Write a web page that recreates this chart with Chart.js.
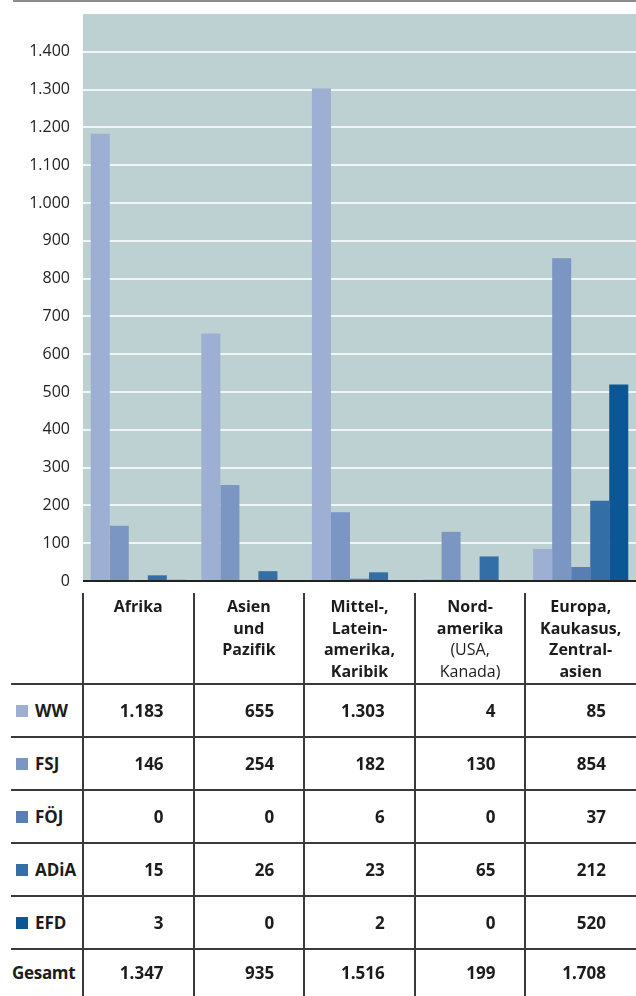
<!DOCTYPE html>
<html>
<head>
<meta charset="utf-8">
<script src="https://cdn.jsdelivr.net/npm/chart.js@4"></script>
<style>
  html, body { margin: 0; padding: 0; background: #fff; }
  body { width: 636px; height: 996px; position: relative; overflow: hidden; font-family: "Open Sans", "Noto Sans", sans-serif; color: #1c1c1c; }
  #topLine { position: absolute; left: 13px; right: 0; top: 0; height: 2px; background: #8c8c8c; }
  #chartBox { position: absolute; left: 0; top: 0; width: 636px; height: 604px; }
  .hline { position: absolute; height: 2px; background: #3a3a3a; }
  .vline { position: absolute; width: 2px; background: #3a3a3a; }
  .head { position: absolute; text-align: center; font-weight: 700; font-size: 16px; line-height: 21.5px; }
  .head .reg { font-weight: 400; }
  .cell { position: absolute; text-align: right; font-weight: 700; font-size: 17px; display: flex; align-items: center; justify-content: flex-end; box-sizing: border-box; padding-right: 30px; }
  .rowLabel { position: absolute; font-weight: 700; font-size: 17px; display: flex; align-items: center; }
  .swatch { display: inline-block; width: 12px; height: 12px; margin-right: 7px; }
</style>
</head>
<body>
<div id="topLine"></div>
<div id="chartBox"><canvas id="regionChart" width="636" height="604"></canvas></div>
<div id="table"></div>

<script>
// -----------------------------
// Data
// -----------------------------
const regions = [
  ["Afrika"],
  ["Asien", "und", "Pazifik"],
  ["Mittel-,", "Latein-", "amerika,", "Karibik"],
  ["Nord-", "amerika", "(USA,", "Kanada)"],
  ["Europa,", "Kaukasus,", "Zentral-", "asien"]
];
// lines in the header that are not bold
const regularLines = ["(USA,", "Kanada)"];

const seriesNames = ["WW", "FSJ", "FÖJ", "ADiA", "EFD"];
const ww   = [1183, 655, 1303, 4, 85];
const fsj  = [146, 254, 182, 130, 854];
const foej = [0, 0, 6, 0, 37];
const adia = [15, 26, 23, 65, 212];
const efd  = [3, 0, 2, 0, 520];
const gesamt = [1347, 935, 1516, 199, 1708];

const yMax = 1500;
const yStep = 100;

const seriesColors = ["#9dafd3", "#7b96c2", "#5a7db5", "#346ea7", "#0c5695"];
const plotBg = "#bdd0d2";

// -----------------------------
// Helpers
// -----------------------------
function fmt(n) {
  return String(n).replace(/\B(?=(\d{3})+(?!\d))/g, ".");
}

const plotBackground = {
  id: "plotBackground",
  beforeDraw(chart) {
    const { ctx, chartArea } = chart;
    ctx.save();
    ctx.fillStyle = plotBg;
    ctx.fillRect(chartArea.left, chartArea.top, chartArea.right - chartArea.left, chartArea.bottom - chartArea.top);
    ctx.restore();
  }
};

const baseLine = {
  id: "baseLine",
  afterDatasetsDraw(chart) {
    const { ctx, chartArea } = chart;
    const y = chart.scales.y.getPixelForValue(0);
    ctx.save();
    ctx.strokeStyle = "#222";
    ctx.lineWidth = 2;
    ctx.beginPath();
    ctx.moveTo(chartArea.left, y);
    ctx.lineTo(chartArea.right, y);
    ctx.stroke();
    ctx.restore();
  }
};

// -----------------------------
// Chart
// -----------------------------
const allSeries = [ww, fsj, foej, adia, efd];

const chart = new Chart(document.getElementById("regionChart").getContext("2d"), {
  type: "bar",
  data: {
    labels: regions.map(r => r.join(" ")),
    datasets: allSeries.map((values, i) => ({
      label: seriesNames[i],
      data: values,
      backgroundColor: seriesColors[i],
      borderWidth: 0,
      categoryPercentage: 0.86,
      barPercentage: 1
    }))
  },
  options: {
    responsive: false,
    animation: false,
    layout: { padding: { top: 14, bottom: 23, left: 0, right: 0 } },
    plugins: {
      legend: { display: false },
      tooltip: { enabled: false }
    },
    scales: {
      x: { display: false },
      y: {
        min: 0,
        max: yMax,
        border: { display: false },
        grid: {
          drawTicks: false,
          lineWidth: 2,
          color: c => (c.tick.value === 0 || c.tick.value === yMax) ? "rgba(0,0,0,0)" : "#f2f5f5"
        },
        ticks: {
          stepSize: yStep,
          padding: 13,
          color: "#222",
          font: { family: "'Open Sans', sans-serif", size: 16 },
          callback: v => v === yMax ? "" : fmt(v)
        },
        afterFit(scale) {
          scale.width = 83;
          scale.paddingTop = 0;
          scale.paddingBottom = 0;
        }
      }
    }
  },
  plugins: [plotBackground, baseLine]
});

// -----------------------------
// Table below the chart
// -----------------------------
function buildTable() {
  const box = document.getElementById("table");
  const left = chart.chartArea.left;
  const right = chart.chartArea.right;
  const colW = (right - left) / regions.length;

  const headTop = 593;
  const headBottom = 684;
  const rowH = 53;
  const rowTops = [headBottom];
  for (let i = 1; i <= 5; i++) rowTops.push(headBottom + i * rowH);
  const tableBottom = 996;

  // horizontal lines
  rowTops.forEach(y => {
    const d = document.createElement("div");
    d.className = "hline";
    d.style.left = "11px";
    d.style.width = (636 - 11) + "px";
    d.style.top = (y - 1) + "px";
    box.appendChild(d);
  });

  // vertical lines
  for (let i = 0; i < regions.length; i++) {
    const d = document.createElement("div");
    d.className = "vline";
    d.style.left = (left + i * colW - 1) + "px";
    d.style.top = headTop + "px";
    d.style.height = (tableBottom - headTop) + "px";
    box.appendChild(d);
  }

  // header
  regions.forEach((lines, i) => {
    const d = document.createElement("div");
    d.className = "head";
    d.style.left = (left + i * colW) + "px";
    d.style.width = colW + "px";
    d.style.top = (headTop + 3) + "px";
    d.innerHTML = lines.map(l => regularLines.includes(l) ? '<span class="reg">' + l + "</span>" : l).join("<br>");
    box.appendChild(d);
  });

  // series rows + total
  const rows = allSeries.concat([gesamt]);
  rows.forEach((values, r) => {
    const top = rowTops[r];
    const bottom = r < 5 ? rowTops[r + 1] : tableBottom;

    const lab = document.createElement("div");
    lab.className = "rowLabel";
    lab.style.top = top + "px";
    lab.style.height = (bottom - top) + "px";
    if (r < 5) {
      lab.style.left = "16px";
      lab.innerHTML = '<span class="swatch" style="background:' + seriesColors[r] + '"></span>' + seriesNames[r];
    } else {
      lab.style.left = "12px";
      lab.style.letterSpacing = "-0.3px";
      lab.textContent = "Gesamt";
    }
    box.appendChild(lab);

    values.forEach((v, i) => {
      const c = document.createElement("div");
      c.className = "cell";
      c.style.left = (left + i * colW) + "px";
      c.style.width = colW + "px";
      c.style.top = top + "px";
      c.style.height = (bottom - top) + "px";
      c.textContent = fmt(v);
      box.appendChild(c);
    });
  });
}

buildTable();
</script>
</body>
</html>
